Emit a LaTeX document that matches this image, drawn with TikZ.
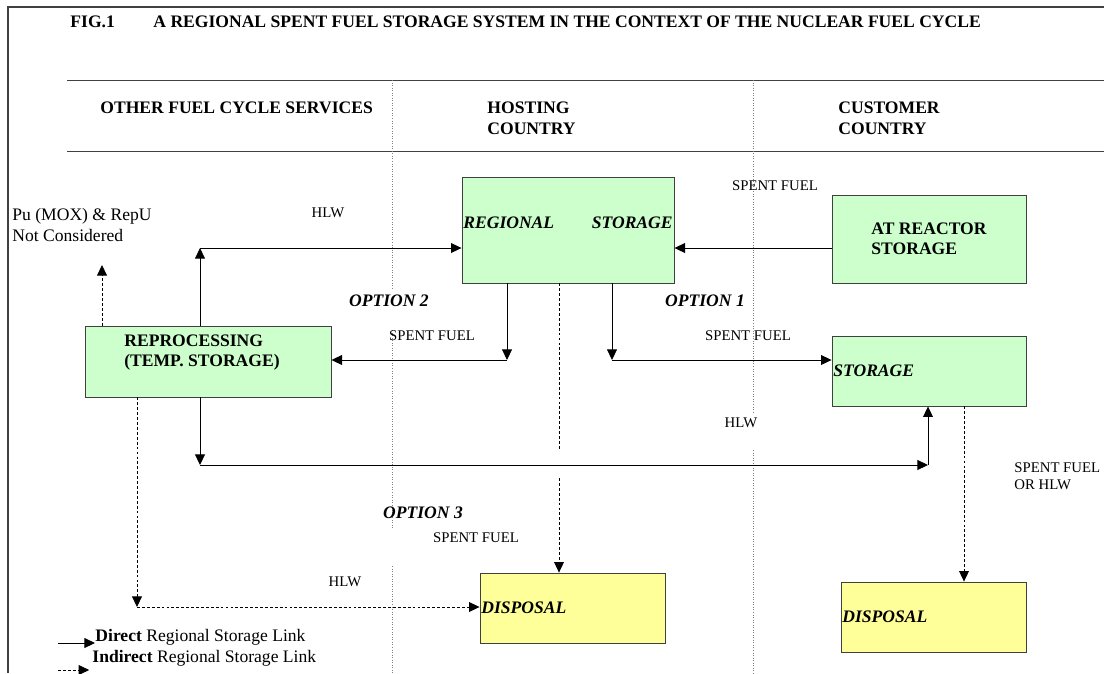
\documentclass[tikz,border=0pt]{standalone}
\usepackage{fontspec}
\setmainfont{Liberation Serif}
\usetikzlibrary{arrows.meta,positioning,calc}
\definecolor{boxgreen}{HTML}{CCFFCC}
\definecolor{boxyellow}{HTML}{FFFF99}
\definecolor{edgegray}{HTML}{404040}

\begin{document}
\begin{tikzpicture}[x=0.025cm,y=-0.025cm,>={Triangle[length=7.5pt,width=7pt]},
 font=\fontsize{10.5}{12.5}\selectfont,line width=0.6pt,
 rec/.style={draw=edgegray,inner sep=1pt,align=left,font=\fontsize{12.5}{14.5}\selectfont\bfseries},
 green/.style={rec,fill=boxgreen},
 yellow/.style={rec,fill=boxyellow},
 slant/.style={font=\fontsize{12.5}{14.5}\selectfont\bfseries\itshape},
 head/.style={anchor=west,align=left,inner sep=0pt,font=\fontsize{12.5}{15}\selectfont\bfseries},
 opt/.style={font=\fontsize{12.5}{14}\selectfont\bfseries\itshape},
 ind/.style={dash pattern=on 2pt off 1.5pt},
 divider/.style={gray,line width=0.5pt,dash pattern=on 0.6pt off 1.2pt}]
\useasboundingbox (0,0) rectangle (1104,673);
% frame and header
\draw[edgegray,line width=0.8pt] (1104,7) -- (8,7) -- (8,673);
\draw[edgegray] (67,80) -- (1104,80);
\draw[edgegray] (67,151) -- (1104,151);
\node[head] (fig) at (70,22) {FIG.1};
\node[head] (title) at (153,22) {A REGIONAL SPENT FUEL STORAGE SYSTEM IN THE CONTEXT OF THE NUCLEAR FUEL CYCLE};
\node[head] (other) at (100,108) {OTHER FUEL CYCLE SERVICES};
\node[head] (host) at (487,118.5) {HOSTING\\COUNTRY};
\node[head] (cust) at (838,118.5) {CUSTOMER\\COUNTRY};
% column dividers
\draw[divider] (392,80) -- (392,290) (392,330) -- (392,528) (392,566) -- (392,673);
\draw[divider] (753,80) -- (753,413) (753,450) -- (753,673);

% boxes
\node[green,slant,minimum height=2.65cm,text width=5.23cm,text height=0.3cm,text depth=0.375cm] (reg) at (568,230) {REGIONAL\hfill STORAGE};
\node[green,minimum width=4.85cm,minimum height=2.2cm] (ars) at (929,239) {AT REACTOR\\STORAGE};
\node[green,minimum width=6.15cm,minimum height=1.775cm,text height=0.98cm,text depth=0.72cm] (rep) at (208,361.5) {REPROCESSING\\(TEMP. STORAGE)\hspace*{0.3cm}};
\node[green,slant,minimum height=1.75cm,text width=4.78cm] (sto) at (929,371) {STORAGE};
\node[yellow,slant,minimum height=1.75cm,text width=4.555cm] (dis1) at (572.5,608) {DISPOSAL};
\node[yellow,slant,minimum height=1.75cm,text width=4.555cm] (dis2) at (933.5,617) {DISPOSAL};
\node[anchor=west,align=left,inner sep=0pt,font=\fontsize{12.5}{14.5}\selectfont] (pu) at (12,225) {Pu (MOX) \& RepU\\Not Considered};

% bends of the links
\coordinate (sf) at (0,248);
\coordinate (hlw1) at (200,248);
\coordinate (o2) at (507,360);
\coordinate (o1) at (612,360);
\coordinate (hlw2) at (200,465);
\coordinate (hlw3) at (928,465);
\coordinate (puend) at (102,265);
\coordinate (hlw4) at (137,607);
\coordinate (o3a) at (559,450);
\coordinate (o3b) at (559,478);
\coordinate (cst) at (964,0);

% direct links
\draw[->] (ars.west |- sf) -- (reg.east |- sf);
\draw[->] (rep.north -| hlw1) -- (hlw1);
\draw[->] (hlw1) -- (reg.west |- hlw1);
\draw[->] (reg.south -| o2) -- (o2);
\draw[->] (o2) -- (rep.east |- o2);
\draw[->] (reg.south -| o1) -- (o1);
\draw[->] (o1) -- (sto.west |- o1);
\draw[->] (rep.south -| hlw2) -- (hlw2);
\draw[->] (hlw2) -- (hlw3);
\draw[->] (hlw3) -- (sto.south -| hlw3);
% indirect links
\draw[ind,->] (rep.north -| puend) -- (puend);
\draw[ind,->] (rep.south -| hlw4) -- (hlw4);
\draw[ind,->] (hlw4) -- (dis1.west |- hlw4);
\draw[ind] (reg.south -| o3a) -- (o3a);
\draw[ind,->] (o3b) -- (dis1.north -| o3b);
\draw[ind,->] (sto.south -| cst) -- (dis2.north -| cst);

% labels
\node (l1) at (328,213) {HLW};
\node (l2) at (775,186) {SPENT FUEL};
\node[opt] (l3) at (389,301) {OPTION 2};
\node (l4) at (432,336) {SPENT FUEL};
\node[opt] (l5) at (705,301) {OPTION 1};
\node (l6) at (748,336) {SPENT FUEL};
\node (l7) at (741,423) {HLW};
\node[anchor=west,align=left,inner sep=0pt] (l8) at (1014,476) {SPENT FUEL\\OR HLW};
\node[opt] (l9) at (423,513) {OPTION 3};
\node (l10) at (476,538) {SPENT FUEL};
\node (l11) at (345,582) {HLW};

% legend
\node[anchor=west,inner sep=0pt,font=\fontsize{12.5}{14}\selectfont] (dir) at (95,637) {\textbf{Direct} Regional Storage Link};
\node[anchor=west,inner sep=0pt,font=\fontsize{12.5}{14}\selectfont] (indir) at (92,658) {\textbf{Indirect} Regional Storage Link};
\coordinate (leg1) at (58,643);
\coordinate (leg2) at (58,670);
\draw[->] (leg1) -- (dir.west |- leg1);
\draw[ind,->] (leg2) -- ([xshift=-2pt]indir.west |- leg2);
\end{tikzpicture}
\end{document}
